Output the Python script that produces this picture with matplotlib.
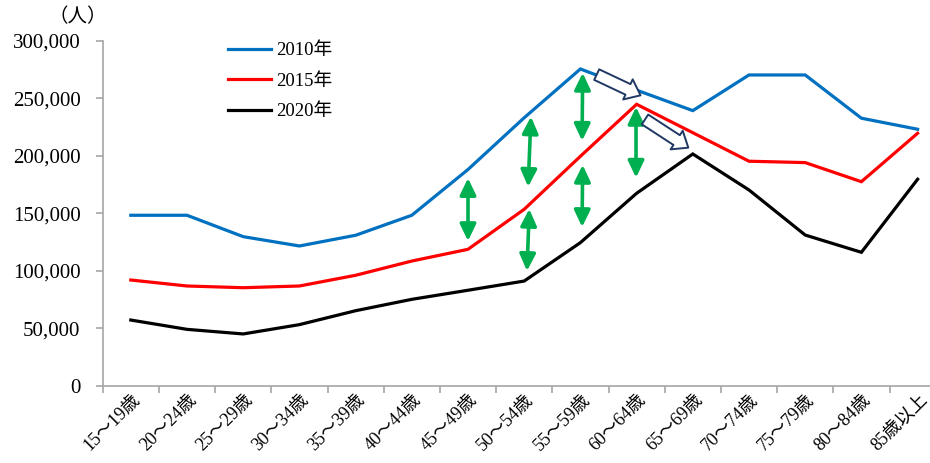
import matplotlib
matplotlib.use("Agg")
import matplotlib.pyplot as plt
from matplotlib.patches import FancyArrowPatch
from matplotlib.ticker import FuncFormatter, MultipleLocator
import matplotlib.transforms as mtransforms

plt.rcParams['font.family'] = ['Liberation Serif', 'Noto Sans CJK JP', 'DejaVu Sans']

# Age groups and population by census year
age_groups = ['15～19歳', '20～24歳', '25～29歳', '30～34歳', '35～39歳',
              '40～44歳', '45～49歳', '50～54歳', '55～59歳', '60～64歳',
              '65～69歳', '70～74歳', '75～79歳', '80～84歳', '85歳以上']
pop_2010 = [148200, 148200, 129600, 121500, 130800, 148200, 188000, 233000,
            275400, 257000, 239200, 270200, 270200, 232600, 223000]
pop_2015 = [91900, 86700, 85200, 86700, 96000, 108400, 118600, 153400,
            199500, 244700, 220000, 195200, 194000, 177400, 219500]
pop_2020 = [57100, 49000, 45000, 53100, 65200, 75100, 83000, 91000,
            124400, 167300, 201500, 170200, 131000, 116000, 179500]

series_labels = ['2010年', '2015年', '2020年']
series_colors = ['#0070C0', '#FF0000', '#000000']

y_ticks = [0, 50000, 100000, 150000, 200000, 250000, 300000]

# Green double arrows: (x at top, x at bottom, upper value, lower value)
gap_arrows = [
    (6.00, 6.00, 180500, 125800),
    (7.12, 7.07, 234000, 173000),
    (7.09, 7.05, 153700, 99800),
    (8.04, 8.03, 272000, 213000),
    (8.04, 8.03, 192000, 138000),
    (8.99, 8.99, 242400, 180900),
]
# Hollow arrows showing the cohort shift: (x tail, y tail, x head, y head)
shift_arrows = [
    (8.29, 270500, 9.07, 252500),
    (9.15, 231500, 9.92, 207000),
]

W, H = 930, 463
fig = plt.figure(figsize=(W / 100, H / 100), dpi=100)
ax_left, ax_right = 102.7, 945.7
ax_top, ax_bottom = 40.7, 385.7
ax = fig.add_axes([ax_left / W, 1 - ax_bottom / H,
                   (ax_right - ax_left) / W, (ax_bottom - ax_top) / H])

x = list(range(len(age_groups)))
for vals, lab, col in zip([pop_2010, pop_2015, pop_2020], series_labels, series_colors):
    ax.plot(x, vals, color=col, lw=2.3, label=lab, solid_joinstyle='miter',
            clip_on=False)

ax.set_xlim(-0.5, len(age_groups) - 0.5)
ax.set_ylim(0, 300000)

# axes styling
for s in ['top', 'right']:
    ax.spines[s].set_visible(False)
axis_grey = '#A6A6A6'
for s in ['left', 'bottom']:
    ax.spines[s].set_color(axis_grey)
    ax.spines[s].set_linewidth(1.2)

ax.set_yticks(y_ticks)
ax.yaxis.set_major_formatter(FuncFormatter(lambda v, p: f'{int(v):,}'))
ax.tick_params(axis='y', length=5, width=1.2, color=axis_grey, pad=11,
               labelsize=15)

ax.set_xticks(x)
ax.set_xticklabels(age_groups, rotation=45, ha='right',
                   rotation_mode='anchor', fontsize=13)
ax.xaxis.set_minor_locator(MultipleLocator(1, offset=0.5))
ax.tick_params(axis='x', which='major', length=0, pad=4)
ax.tick_params(axis='x', which='minor', length=5, width=1.2, color=axis_grey)
shift = mtransforms.ScaledTranslation(1 / 100, 0, fig.dpi_scale_trans)
for lbl in ax.get_xticklabels():
    lbl.set_transform(lbl.get_transform() + shift)

# unit label, placed in pixel coordinates
fig.text(107 / W, 1 - 17 / H, '（人）', fontsize=14, ha='right', va='center')

leg = ax.legend(loc='upper left',
                bbox_to_anchor=((228 - ax_left) / (ax_right - ax_left),
                                (ax_bottom - 42) / (ax_bottom - ax_top)),
                frameon=False, fontsize=13.5, handlelength=2.3,
                handletextpad=0.25, labelspacing=0.72, borderaxespad=0,
                borderpad=0)

green = '#00B050'
for x0, x1, top, bot in gap_arrows:
    ax.annotate('', xy=(x0, top), xytext=(x1, bot),
                arrowprops=dict(arrowstyle='<|-|>,head_length=0.5,head_width=0.24',
                                color=green, lw=2.6, shrinkA=0, shrinkB=0,
                                mutation_scale=20))

for xt, yt, xh, yh in shift_arrows:
    p = FancyArrowPatch((xt, yt), (xh, yh),
                        arrowstyle='simple,head_length=0.5,head_width=0.8,tail_width=0.42',
                        mutation_scale=20, facecolor='white',
                        edgecolor='#1F3864', lw=1.4, shrinkA=0, shrinkB=0,
                        zorder=5)
    ax.add_patch(p)

fig.savefig('out.png', dpi=100)
